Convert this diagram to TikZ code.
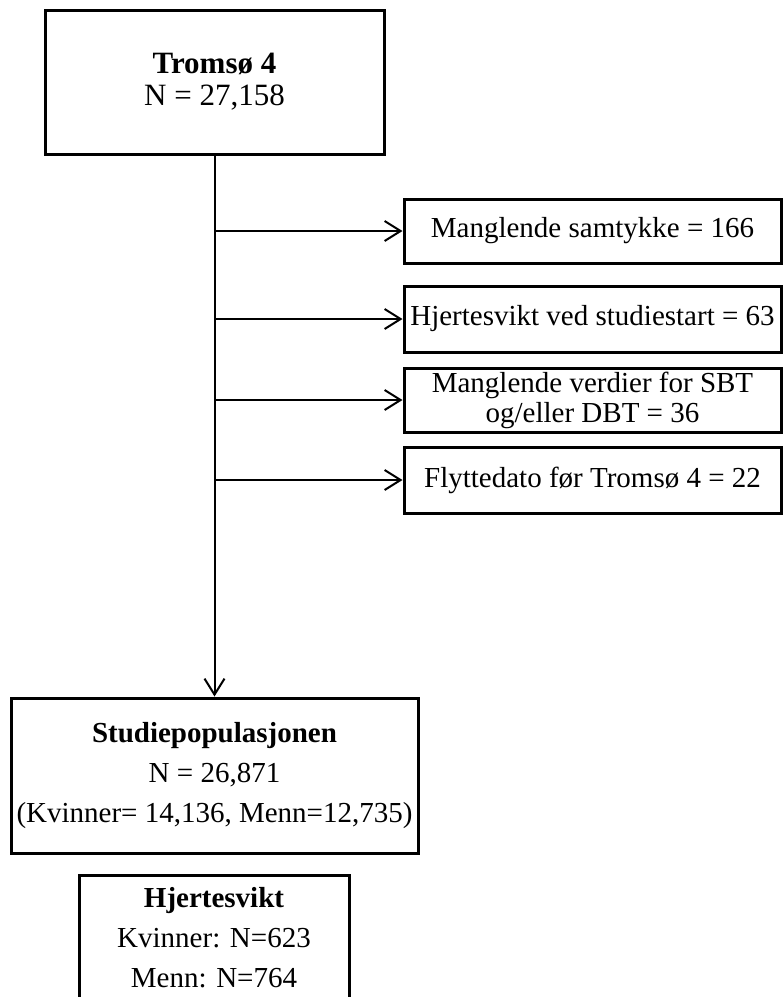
\documentclass[tikz,border=0pt]{standalone}
\usepackage{fontspec}
\setmainfont{Liberation Serif}
\usetikzlibrary{arrows.meta}
\tikzset{
  box/.style={draw=black, line width=3pt, rectangle, inner sep=0pt, align=center, font=\fontsize{29}{40}\selectfont},
  conn/.style={draw=black, line width=2pt},
  arr/.style={conn, -{Straight Barb[length=16pt,width=20pt,line width=2pt]}}
}
\begin{document}
\begin{tikzpicture}[x=1pt,y=-1pt]
\useasboundingbox (0,0) rectangle (784,997);
\clip (0,0) rectangle (784,997);
\node[box, minimum width=339pt, minimum height=144pt, font=\fontsize{31}{32}\selectfont] (top) at (214.5,82) {\textbf{Tromsø 4}\\N = 27,158};
\node[box, minimum width=377pt, minimum height=64pt] (s1) at (592.5,231) {Manglende samtykke = 166};
\node[box, minimum width=377pt, minimum height=66pt] (s2) at (592.5,319) {Hjertesvikt ved studiestart = 63};
\node[box, minimum width=377pt, minimum height=64pt, font=\fontsize{29}{30}\selectfont] (s3) at (592.5,400) {Manglende verdier for SBT\\og/eller DBT = 36};
\node[box, minimum width=377pt, minimum height=66pt] (s4) at (592.5,480) {Flyttedato før Tromsø 4 = 22};
\node[box, minimum width=407pt, minimum height=155pt] (pop) at (214.5,775.5) {\textbf{Studiepopulasjonen}\\N = 26,871\\(Kvinner= 14,136, Menn=12,735)};
\node[box, minimum width=270pt, minimum height=126pt] (hf) at (214,938) {\textbf{Hjertesvikt}\\Kvinner: N=623\\Menn: N=764};
\draw[arr] (top.south) -- (pop.north);
\draw[arr] (top.south |- s1.west) -- (s1.west);
\draw[arr] (top.south |- s2.west) -- (s2.west);
\draw[arr] (top.south |- s3.west) -- (s3.west);
\draw[arr] (top.south |- s4.west) -- (s4.west);
\end{tikzpicture}
\end{document}
